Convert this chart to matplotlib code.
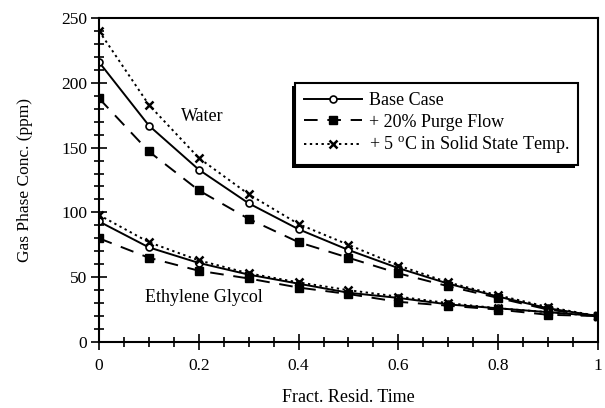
import matplotlib
matplotlib.use("Agg")
import matplotlib.pyplot as plt
from matplotlib.ticker import MultipleLocator
from matplotlib.patches import Rectangle

plt.rcParams['font.family'] = ['Liberation Serif', 'DejaVu Serif']

x = [0, 0.1, 0.2, 0.3, 0.4, 0.5, 0.6, 0.7, 0.8, 0.9, 1.0]

water_base = [216, 167, 133, 107, 87, 71, 57, 45, 35, 26, 20]
water_purge = [188, 147, 117, 95, 77, 65, 53, 43, 34, 25, 20]
water_temp = [240, 183, 142, 114, 91, 75, 59, 46, 36, 27, 20]

eg_base = [93, 73, 61, 52, 45, 38, 34, 29, 26, 23, 20]
eg_purge = [80, 65, 55, 49, 42, 37, 31, 28, 25, 21, 20]
eg_temp = [98, 77, 63, 53, 46, 40, 35, 30, 26, 23, 20]

labels = ["Base Case", "+ 20% Purge Flow", "+ 5 $^{\\mathregular{o}}$C in Solid State Temp."]

fig = plt.figure(figsize=(6.05, 4.08), dpi=100)
ax = fig.add_axes([99/605, 1-342/408, (598-99)/605, (342-18)/408])

lw = 1.4
sty_base = dict(color='black', lw=lw, ls='-', marker='o', ms=5, mfc='white', mec='black', mew=1.2)
sty_purge = dict(color='black', lw=lw, ls=(0, (7, 5)), marker='s', ms=6, mfc='black', mec='black')
sty_temp = dict(color='black', lw=lw, ls=(0, (1.2, 1.8)), marker='x', ms=6, mew=1.8, mec='black')

h1, = ax.plot(x, water_base, **sty_base)
h2, = ax.plot(x, water_purge, **sty_purge)
h3, = ax.plot(x, water_temp, **sty_temp)
ax.plot(x, eg_base, **sty_base)
ax.plot(x, eg_purge, **sty_purge)
ax.plot(x, eg_temp, **sty_temp)

ax.set_xlim(0, 1)
ax.set_ylim(0, 250)
ax.xaxis.set_major_locator(MultipleLocator(0.2))
ax.xaxis.set_minor_locator(MultipleLocator(0.05))
ax.yaxis.set_major_locator(MultipleLocator(50))
ax.yaxis.set_minor_locator(MultipleLocator(10))
ax.set_xticks([0, 0.2, 0.4, 0.6, 0.8, 1.0])
ax.set_xticklabels(['0', '0.2', '0.4', '0.6', '0.8', '1'])
ax.tick_params(axis='both', which='major', direction='inout', length=11, width=1.2, labelsize=12.5, pad=3)
ax.tick_params(axis='x', which='major', pad=6)
ax.tick_params(axis='both', which='minor', direction='inout', length=7, width=1.2)
ax.tick_params(top=False, right=False, which='both')
for s in ax.spines.values():
    s.set_linewidth(1.5)

ax.set_xlabel("Fract. Resid. Time", fontsize=13, labelpad=11)
ax.set_ylabel("Gas Phase Conc. (ppm)", fontsize=12.5, labelpad=20)

ax.text(0.165, 174, "Water", fontsize=13, ha='left', va='center')
ax.text(0.092, 34, "Ethylene Glycol", fontsize=13, ha='left', va='center')

leg = ax.legend([h1, h2, h3], labels, loc='upper left', bbox_to_anchor=((295-99)/499, 1-(83-18)/324),
                borderaxespad=0,
                fontsize=13, frameon=True, fancybox=False, edgecolor='black', framealpha=1,
                handlelength=3.2, handletextpad=0.4, borderpad=0.5, labelspacing=0.25)
leg.get_frame().set_linewidth(1.5)
leg.set_zorder(5)

fig.canvas.draw()
bb = leg.get_window_extent()
shadow = Rectangle((bb.x0 - 3, bb.y0 - 3), bb.width, bb.height, transform=None,
                   facecolor='black', edgecolor='none', zorder=4)
fig.add_artist(shadow)
leg.remove()
fig.add_artist(leg)
leg.set_zorder(6)

fig.savefig("out.png", dpi=100)
